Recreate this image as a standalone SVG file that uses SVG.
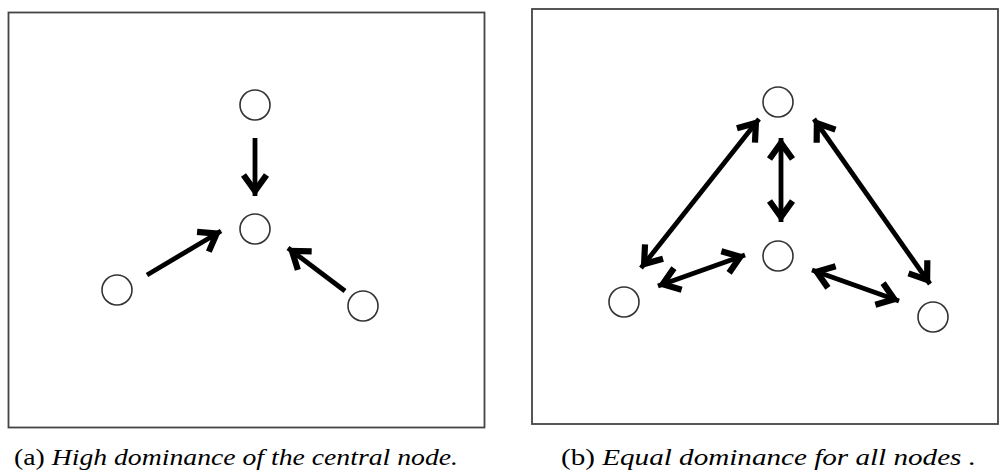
<svg xmlns="http://www.w3.org/2000/svg" width="1000" height="474" viewBox="0 0 1000 474">
<style>
.frame{fill:none;stroke:#444;stroke-width:1.8}
.node{fill:#fff;stroke:#333;stroke-width:1.6}
.edge{stroke:#000;stroke-width:4.8;fill:none}
.cap{font-family:"Liberation Serif",serif;font-size:24px;fill:#000}
</style>
<defs>
<marker id="ah" markerUnits="userSpaceOnUse" viewBox="-30 -18 34 36" refX="0" refY="0" markerWidth="34" markerHeight="36" orient="auto-start-reverse">
<path d="M-21,-11.5 L-5,0 L-21,11.5" fill="none" stroke="#000" stroke-width="6.2" stroke-linejoin="miter" stroke-linecap="butt" stroke-miterlimit="10"/>
</marker>
</defs>
<rect class="frame" x="8.5" y="12.5" width="476" height="415"/>
<rect class="frame" x="532" y="9" width="466" height="415"/>
<g id="connectors">
<line class="edge" x1="255" y1="138" x2="255" y2="196" marker-end="url(#ah)"/>
<line class="edge" x1="147" y1="275" x2="221" y2="231" marker-end="url(#ah)"/>
<line class="edge" x1="345" y1="291" x2="288" y2="248" marker-end="url(#ah)"/>
<line class="edge" x1="759" y1="119" x2="641" y2="268" marker-start="url(#ah)" marker-end="url(#ah)"/>
<line class="edge" x1="781" y1="138" x2="781" y2="222" marker-start="url(#ah)" marker-end="url(#ah)"/>
<line class="edge" x1="814" y1="119" x2="930" y2="284" marker-start="url(#ah)" marker-end="url(#ah)"/>
<line class="edge" x1="658" y1="286" x2="745" y2="255" marker-start="url(#ah)" marker-end="url(#ah)"/>
<line class="edge" x1="812" y1="270" x2="899" y2="301" marker-start="url(#ah)" marker-end="url(#ah)"/>
</g>
<g id="a-top"><circle class="node" cx="255" cy="105" r="15"/></g>
<g id="a-center"><circle class="node" cx="255" cy="229" r="15"/></g>
<g id="a-left"><circle class="node" cx="117" cy="290" r="15"/></g>
<g id="a-right"><circle class="node" cx="363" cy="306" r="15"/></g>
<g id="b-top"><circle class="node" cx="778" cy="102" r="15"/></g>
<g id="b-center"><circle class="node" cx="778" cy="256" r="15"/></g>
<g id="b-left"><circle class="node" cx="624" cy="302" r="15"/></g>
<g id="b-right"><circle class="node" cx="933" cy="317" r="15"/></g>
<text class="cap" x="14" y="465" textLength="444" lengthAdjust="spacingAndGlyphs">(a) <tspan font-style="italic">High dominance of the central node.</tspan></text>
<text class="cap" x="561" y="465" textLength="415" lengthAdjust="spacingAndGlyphs">(b) <tspan font-style="italic">Equal dominance for all nodes .</tspan></text>
</svg>
